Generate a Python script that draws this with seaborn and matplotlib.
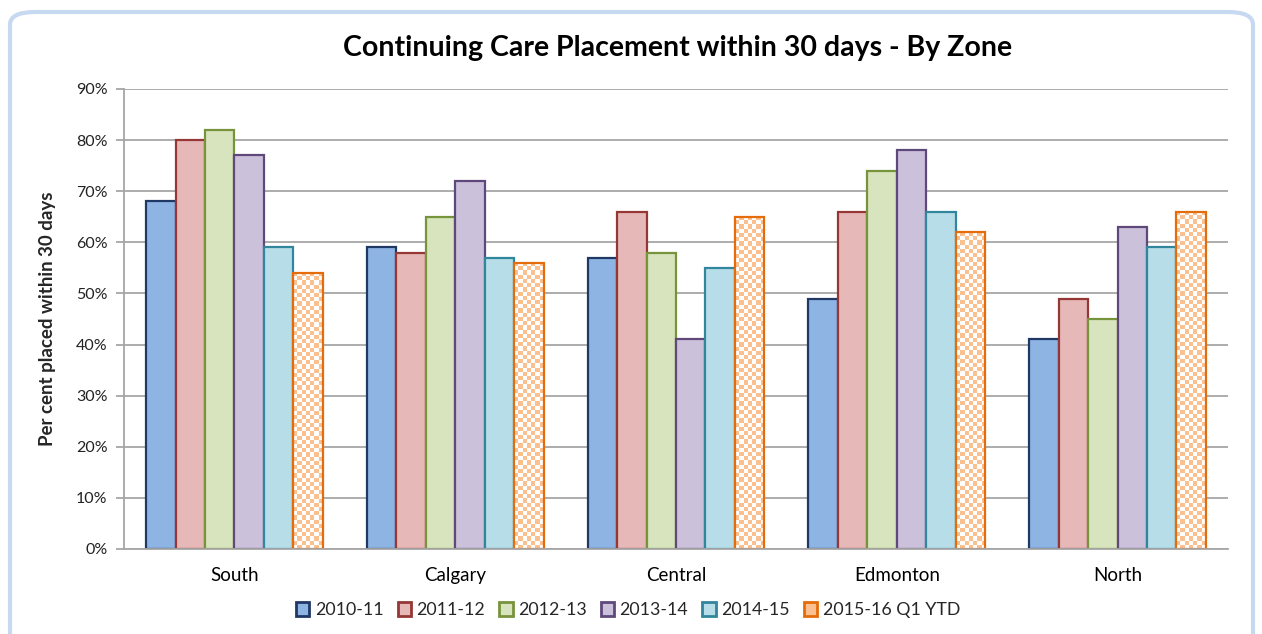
import numpy as np
import pandas as pd
import matplotlib.pyplot as plt
import seaborn as sns
from matplotlib.patches import Patch, FancyBboxPatch
from matplotlib.colors import ListedColormap

# data
zones = ['South', 'Calgary', 'Central', 'Edmonton', 'North']
years = ['2010-11', '2011-12', '2012-13', '2013-14', '2014-15', '2015-16 Q1 YTD']
v_2010 = [68, 59, 57, 49, 41]
v_2011 = [80, 58, 66, 66, 49]
v_2012 = [82, 65, 58, 74, 45]
v_2013 = [77, 72, 41, 78, 63]
v_2014 = [59, 57, 55, 66, 59]
v_2015 = [54, 56, 65, 62, 66]

fills = ['#8EB4E3', '#E6B9B8', '#D7E4BD', '#CCC1DA', '#B7DEE8', '#FFFFFF']
edges = ['#1F3864', '#953735', '#77933C', '#5F497A', '#31859C', '#E46C0A']

rows = []
for yr, vals in zip(years, [v_2010, v_2011, v_2012, v_2013, v_2014, v_2015]):
    for z, v in zip(zones, vals):
        rows.append({'Zone': z, 'Year': yr, 'Pct': v / 100})
df = pd.DataFrame(rows)

sns.set_style('white')
plt.rcParams['font.family'] = ['Lato', 'DejaVu Sans']

fig = plt.figure(figsize=(12.62, 6.34), dpi=100)
ax = fig.add_axes([124 / 1262, 1 - 549 / 634, (1228 - 124) / 1262, (549 - 89) / 634])

sns.barplot(data=df, x='Zone', y='Pct', hue='Year', order=zones, hue_order=years,
            palette=fills, ax=ax, width=0.8, legend=False, saturation=1)

# edge colours, checkerboard fill for the last series
checker = np.indices((200, 200)).sum(axis=0) % 2
cmap_chk = ListedColormap(['#FFFFFF', '#FAC090'])
for cont, ec, yr in zip(ax.containers, edges, years):
    for bar in cont:
        bar.set_edgecolor(ec)
        bar.set_linewidth(1.6)
        if yr == years[-1]:
            x0, y0 = bar.get_x(), bar.get_y()
            w, h = bar.get_width(), bar.get_height()
            nx = 7
            ny = max(int(round(h * 511 / 4.2)), 1)
            img = ax.imshow(checker[:ny, :nx], cmap=cmap_chk, extent=(x0, x0 + w, y0, y0 + h),
                            aspect='auto', interpolation='nearest', zorder=bar.get_zorder() + 0.1,
                            origin='lower')
            img.set_clip_path(bar)
            bar.set_facecolor('none')
            bar.set_zorder(bar.get_zorder() + 0.2)

ax.set_xlim(-0.5, 4.5)
ax.set_ylim(0, 0.9)
ax.set_yticks(np.arange(0, 0.91, 0.1))
ax.set_yticklabels([f'{int(round(t * 100))}%' for t in np.arange(0, 0.91, 0.1)])
ax.yaxis.grid(True, color='#A6A6A6', linewidth=1.3)
ax.set_axisbelow(True)
for s in ['top', 'right']:
    ax.spines[s].set_visible(False)
for s in ['left', 'bottom']:
    ax.spines[s].set_color('#A6A6A6')
    ax.spines[s].set_linewidth(1.3)

ax.set_xticks(np.arange(-0.5, 5, 1), minor=True)
ax.tick_params(axis='x', which='major', length=0, pad=13, labelsize=13.5, colors='#000000')
ax.tick_params(axis='x', which='minor', length=6, color='#A6A6A6', width=1.3, direction='out')
ax.tick_params(axis='y', length=6, color='#A6A6A6', width=1.3, direction='out', pad=6,
               labelsize=11.5, labelcolor='#222222', left=True)
ax.set_xlabel('')
ax.set_ylabel('Per cent placed within 30 days', fontsize=13.5, fontweight='bold', labelpad=14)

fig.suptitle('Continuing Care Placement within 30 days - By Zone', x=678 / 1262, y=1 - 48 / 634,
             va='center', fontsize=20.5, fontweight='bold', color='#000000')

handles = [Patch(facecolor=f if f != '#FFFFFF' else '#FAC090', edgecolor=e, linewidth=2)
           for f, e in zip(fills, edges)]
fig.legend(handles, years, loc='center', bbox_to_anchor=(628 / 1262, 1 - 610 / 634), ncol=6,
           frameon=False, fontsize=12.8, handlelength=0.75, handleheight=0.85,
           handletextpad=0.3, columnspacing=0.8)

frame = FancyBboxPatch((10 / 1262, -0.05), 1243 / 1262, 1.05 - 12 / 634,
                       boxstyle='round,pad=0,rounding_size=0.02', transform=fig.transFigure,
                       facecolor='none', edgecolor='#C6D9F1', linewidth=3, zorder=-1)
fig.patches.append(frame)

fig.savefig('out.png', dpi=100)
